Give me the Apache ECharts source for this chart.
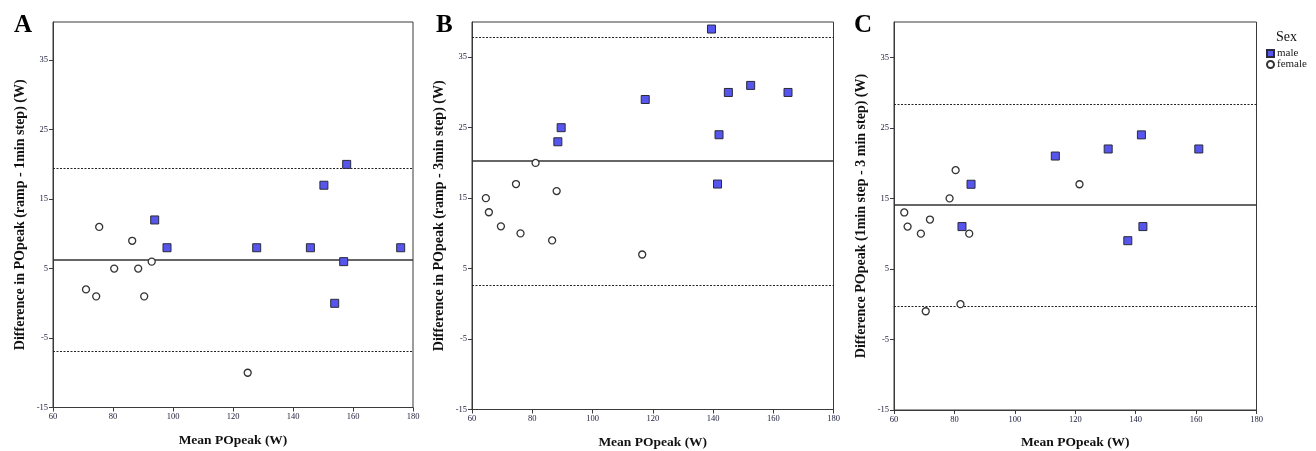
<!DOCTYPE html>
<html>
<head>
<meta charset="utf-8">
<script src="https://cdn.jsdelivr.net/npm/echarts@6/dist/echarts.min.js"></script>
<style>
html,body{margin:0;padding:0;background:#fff;}
#chart{width:1316px;height:451px;}
</style>
</head>
<body>
<div id="chart"></div>
<script>
// ---- data ----
const panelLetters = ['A', 'B', 'C'];
const yTitles = [
  'Difference in POpeak (ramp - 1min step) (W)',
  'Difference in POpeak (ramp - 3min step) (W)',
  'Difference POpeak (1min step - 3 min step) (W)'
];
const xTitle = 'Mean POpeak (W)';
const yTickValues = [-15, -5, 5, 15, 25, 35];
const yMaxes = [40.5, 40, 40];

const maleA_x = [93.9, 98, 127.9, 145.8, 150.3, 157.9, 156.9, 153.9, 175.9];
const maleA_y = [12, 8, 8, 8, 17, 20, 6, 0, 8];
const femaleA_x = [75.4, 86.4, 80.4, 88.4, 92.9, 71, 74.4, 90.4, 124.9];
const femaleA_y = [11, 9, 5, 5, 6, 2, 1, 1, -10];
const linesA = [6.25, 19.4, -6.9]; // mean, upper limit, lower limit

const maleB_x = [139.5, 117.5, 89.6, 88.5, 142, 141.5, 145.1, 152.5, 164.9];
const maleB_y = [39, 29, 25, 23, 24, 17, 30, 31, 30];
const femaleB_x = [81.1, 74.6, 88.1, 64.6, 65.6, 69.6, 76.1, 86.6, 116.5];
const femaleB_y = [20, 17, 16, 15, 13, 11, 10, 9, 7];
const linesB = [20.3, 37.9, 2.7];

const maleC_x = [85.5, 82.5, 113.4, 130.9, 141.9, 142.4, 137.4, 160.9];
const maleC_y = [17, 11, 21, 22, 24, 11, 9, 22];
const femaleC_x = [80.4, 78.4, 121.4, 63.4, 64.5, 71.9, 68.9, 84.9, 70.5, 82];
const femaleC_y = [19, 15, 17, 13, 11, 12, 10, 10, -1, 0];
const linesC = [14.1, 28.4, -0.3];

const legendTitle = 'Sex';
const seriesNames = ['male', 'female'];

// ---- build ----
const FONT = '"Liberation Serif", "DejaVu Serif", serif';
const panels = [
  {mx: maleA_x, my: maleA_y, fx: femaleA_x, fy: femaleA_y, lines: linesA},
  {mx: maleB_x, my: maleB_y, fx: femaleB_x, fy: femaleB_y, lines: linesB},
  {mx: maleC_x, my: maleC_y, fx: femaleC_x, fy: femaleC_y, lines: linesC}
];
const zip = (xs, ys) => xs.map((x, i) => [x, ys[i]]);

const grids = [
  {left: 53, top: 22, width: 360, height: 385.5},
  {left: 472, top: 22, width: 361.5, height: 387.5},
  {left: 894, top: 22, width: 362.5, height: 388}
].map(g => Object.assign(g, {show: true, borderColor: '#3a3a3a', borderWidth: 1,
  backgroundColor: 'transparent', containLabel: false, outerBoundsMode: 'none'}));

const xAxes = [], yAxes = [], series = [];
panels.forEach((p, i) => {
  xAxes.push({
    gridIndex: i, type: 'value', min: 60, max: 180, interval: 20,
    name: xTitle, nameLocation: 'middle', nameGap: 26,
    nameTextStyle: {fontFamily: FONT, fontWeight: 'bold', fontSize: 13.5, color: '#111'},
    axisLine: {onZero: false, lineStyle: {color: '#3a3a3a', width: 1}},
    axisTick: {show: true, length: 4, inside: false, lineStyle: {color: '#3a3a3a'}},
    axisLabel: {fontFamily: FONT, fontSize: 8.5, color: '#1a1a3a', margin: 5},
    splitLine: {show: false}
  });
  yAxes.push({
    gridIndex: i, type: 'value', min: -15, max: yMaxes[i],
    name: yTitles[i], nameLocation: 'middle', nameGap: 26,
    nameTextStyle: {fontFamily: FONT, fontWeight: 'bold', fontSize: 14, color: '#111'},
    axisLine: {onZero: false, lineStyle: {color: '#3a3a3a', width: 1}},
    axisTick: {show: true, length: 4, lineStyle: {color: '#3a3a3a'}, customValues: yTickValues},
    axisLabel: {fontFamily: FONT, fontSize: 8.5, color: '#1a1a3a', margin: 5, customValues: yTickValues},
    splitLine: {show: false}
  });
  series.push({
    name: seriesNames[0], type: 'scatter', xAxisIndex: i, yAxisIndex: i,
    data: zip(p.mx, p.my), symbol: 'rect', symbolSize: 8, z: 5,
    itemStyle: {color: '#5656ee', borderColor: '#2a2a3a', borderWidth: 1, opacity: 1},
    emphasis: {disabled: true},
    markLine: {
      silent: true, symbol: 'none', animation: false,
      label: {show: false},
      data: [
        {yAxis: p.lines[0], lineStyle: {type: 'solid', color: '#333', width: 1.5}},
        {yAxis: p.lines[1], lineStyle: {type: [2, 1.5], color: '#222', width: 1}},
        {yAxis: p.lines[2], lineStyle: {type: [2, 1.5], color: '#222', width: 1}}
      ]
    }
  });
  series.push({
    name: seriesNames[1], type: 'scatter', xAxisIndex: i, yAxisIndex: i,
    data: zip(p.fx, p.fy), symbol: 'circle', symbolSize: 7, z: 5,
    itemStyle: {color: '#ffffff', borderColor: '#333', borderWidth: 1.3, opacity: 1},
    emphasis: {disabled: true}
  });
});

const titles = [
  {text: panelLetters[0], left: 9, top: 8},
  {text: panelLetters[1], left: 431, top: 8},
  {text: panelLetters[2], left: 849, top: 8}
].map(t => Object.assign(t, {textStyle: {fontFamily: FONT, fontWeight: 'bold', fontSize: 25, color: '#000'}}));
titles.push({text: legendTitle, left: 1271, top: 25, textStyle: {fontFamily: FONT, fontWeight: 'normal', fontSize: 14, color: '#111'}});

const chart = echarts.init(document.getElementById('chart'), null, {renderer: 'canvas'});
chart.setOption({
  animation: false,
  backgroundColor: '#fff',
  title: titles,
  legend: {
    data: seriesNames, orient: 'vertical', left: 1266, top: 48, padding: 0,
    itemWidth: 7, itemHeight: 7, itemGap: 0,
    textStyle: {fontFamily: FONT, fontSize: 11, color: '#222', padding: [0, 0, 0, -2]},
    selectedMode: false
  },
  grid: grids,
  xAxis: xAxes,
  yAxis: yAxes,
  series: series
});
</script>
</body>
</html>
